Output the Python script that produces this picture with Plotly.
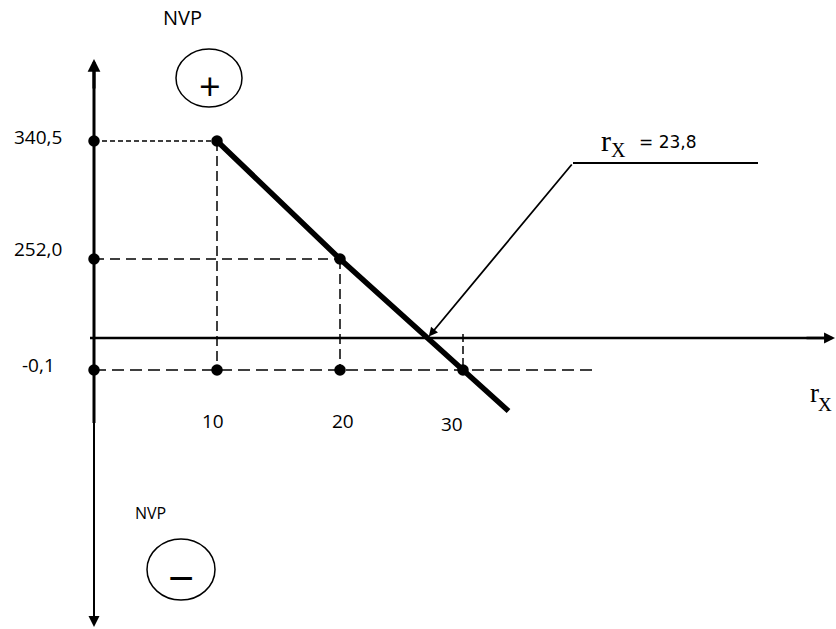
import numpy as np
import plotly.graph_objects as go

# ---------------- data ----------------
rates = [10, 20, 30]                 # discount rate r_X (%)
npv = [340.5, 252.0, -0.1]           # NPV at those rates
npv_labels = ["340,5", "252,0", "-0,1"]
rate_labels = ["10", "20", "30"]
irr_text = "= 23,8"

# ---------------- geometry of the (not-to-scale) sketch ----------------
W, H = 836, 629
PX0, PX_PER = 94.0, 12.3                     # horizontal: linear rate scale
x_range = [-PX0 / PX_PER, (W - PX0) / PX_PER]
# vertical: the sketch's NPV axis is schematic -> map NPV levels to rows
npv_levels = [-0.1, 0.0, 252.0, 340.5]
level_rows = [370, 338, 259, 141]


def row(v):
    return float(np.interp(v, npv_levels, level_rows))


def rx(px):  # pixel column -> rate coordinate (for decorations)
    return (px - PX0) / PX_PER


ys = [row(v) for v in npv]
y_zero = row(0.0)
y_low = row(min(npv))

fig = go.Figure()

# axes lines
fig.add_trace(go.Scatter(x=[0, 0], y=[70, 423], mode="lines",
                         line=dict(color="black", width=3), hoverinfo="skip"))
fig.add_trace(go.Scatter(x=[0, 0], y=[423, 618], mode="lines",
                         line=dict(color="black", width=2), hoverinfo="skip"))
fig.add_trace(go.Scatter(x=[rx(90), rx(828)], y=[y_zero, y_zero], mode="lines",
                         line=dict(color="black", width=2.3), hoverinfo="skip"))

# dashed guides from the NPV axis to each point
guide_dash = ["5px,3px", "10px,6px", "12px,6px"]
guide_end = [rates[0], rates[1], 40.5]
for i in range(3):
    fig.add_trace(go.Scatter(x=[0, guide_end[i]], y=[ys[i], ys[i]], mode="lines",
                             line=dict(color="black", width=1.5, dash=guide_dash[i]),
                             hoverinfo="skip"))
# vertical dashed drops to the -0,1 level
for i in range(2):
    fig.add_trace(go.Scatter(x=[rates[i], rates[i]], y=[ys[i], y_low], mode="lines",
                             line=dict(color="black", width=1.5, dash="10px,5px"),
                             hoverinfo="skip"))
fig.add_trace(go.Scatter(x=[rates[2], rates[2]], y=[y_zero - 4, y_low], mode="lines",
                         line=dict(color="black", width=1.5, dash="8px,4px"),
                         hoverinfo="skip"))

# NPV profile line (drawn a bit beyond the last point)
ext_rate = 33.7
slope = (ys[2] - ys[1]) / (rates[2] - rates[1])
line_x = rates + [ext_rate]
line_y = ys + [ys[2] + slope * (ext_rate - rates[2])]
fig.add_trace(go.Scatter(x=line_x, y=line_y, mode="lines",
                         line=dict(color="black", width=5.5), hoverinfo="skip"))

# dots
dot_x = [0, 0, 0] + rates + rates[:2]
dot_y = ys + ys + [y_low, y_low]
fig.add_trace(go.Scatter(x=dot_x, y=dot_y, mode="markers",
                         marker=dict(color="black", size=11.5), hoverinfo="skip"))

# callout horizontal part
fig.add_trace(go.Scatter(x=[rx(573), rx(758)], y=[163, 163], mode="lines",
                         line=dict(color="black", width=2), hoverinfo="skip"))

# IRR crossing point (where the profile meets NPV = 0)
t = (y_zero - ys[1]) / (ys[2] - ys[1])
irr_x = rates[1] + t * (rates[2] - rates[1])

ann = []
# arrow heads of the axes (short arrows laid over the axis lines)
ann.append(dict(x=0, y=59, ax=0, ay=90, arrowwidth=3, arrowsize=0.85))
ann.append(dict(x=0, y=627, ax=0, ay=597, arrowwidth=2, arrowsize=1.1))
ann.append(dict(x=rx(835), y=y_zero, ax=rx(805), ay=y_zero, arrowwidth=2.3, arrowsize=0.95))
# callout arrow
ann.append(dict(x=irr_x + 0.1, y=y_zero - 1.5, ax=rx(573), ay=163, arrowwidth=1.8, arrowsize=1.0))
annotations = []
for a in ann:
    a.update(text="", showarrow=True, arrowhead=2, arrowcolor="black",
             xref="x", yref="y", axref="x", ayref="y", standoff=0)
    annotations.append(a)

SANS = "Open Sans, Arial, sans-serif"
SERIF = "Liberation Serif, Times New Roman, serif"


def txt(px, py, s, size, family=SANS):
    annotations.append(dict(x=rx(px), y=py, xref="x", yref="y", text=s, showarrow=False,
                            xanchor="center", yanchor="middle",
                            font=dict(family=family, size=size, color="black")))


label_rows = [137, 249, 365]
for lab, r_ in zip(npv_labels, label_rows):
    txt(38, r_, lab, 19)
rate_lab_pos = [(213, 421), (343, 421), (452, 424)]
for lab, (px, py) in zip(rate_labels, rate_lab_pos):
    txt(px, py, lab, 19)

txt(182, 17, "NVP", 20)
txt(150, 513, "NVP", 16)
txt(210, 85, "+", 38)
txt(181, 577, "−", 46, "Open Sans, DejaVu Sans, sans-serif")

# r_X labels
txt(606, 140, "r", 30, SERIF)
txt(618, 150, "X", 20, SERIF)
txt(668, 142, irr_text, 17, "DejaVu Sans, Verdana, sans-serif")
txt(814, 393, "r", 27, SERIF)
txt(825, 404, "X", 19, SERIF)

shapes = [
    dict(type="circle", xref="x", yref="y", x0=rx(176), x1=rx(242), y0=49, y1=107,
         line=dict(color="black", width=1.5)),
    dict(type="circle", xref="x", yref="y", x0=rx(147), x1=rx(215), y0=539, y1=600,
         line=dict(color="black", width=1.5)),
]

fig.update_layout(
    width=W, height=H,
    margin=dict(l=0, r=0, t=0, b=0),
    paper_bgcolor="white", plot_bgcolor="white",
    showlegend=False,
    xaxis=dict(range=x_range, visible=False, fixedrange=True),
    yaxis=dict(range=[H, 0], visible=False, fixedrange=True),
    annotations=annotations,
    shapes=shapes,
)

fig.write_html("out.html",
               config={"displayModeBar": False, "staticPlot": True},
               post_script="document.body.style.margin='0px';"
                           "document.documentElement.style.overflow='hidden';")
